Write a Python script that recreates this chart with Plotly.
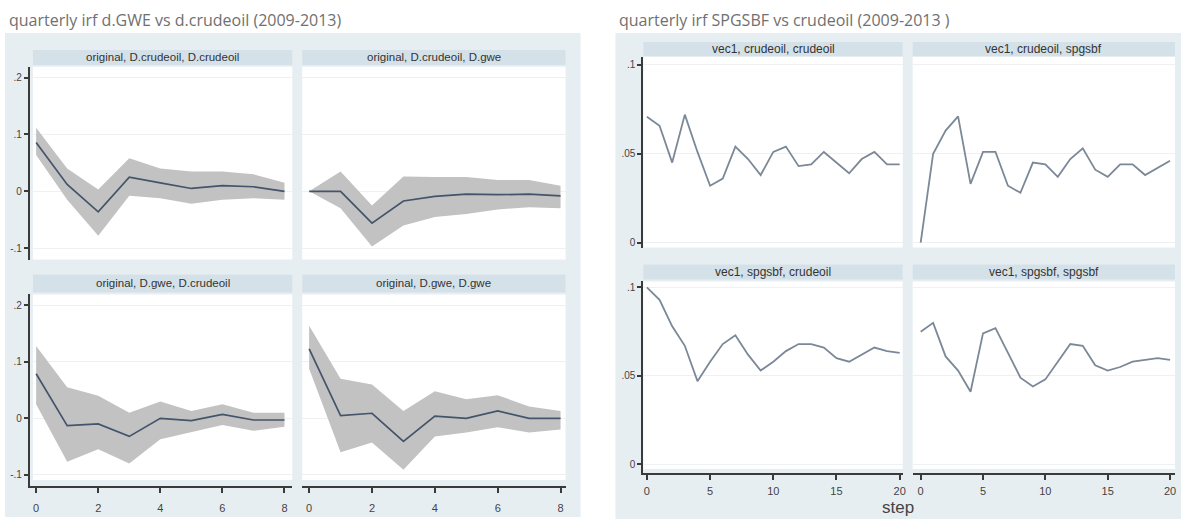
import plotly.graph_objects as go

W, H = 1188, 520

# ---- data: quarterly impulse responses (left: original IRF with CI band) ----
steps_q = [0, 1, 2, 3, 4, 5, 6, 7, 8]

oil_oil = [0.086, 0.012, -0.036, 0.025, 0.015, 0.005, 0.010, 0.008, 0.000]
oil_oil_hi = [0.112, 0.040, 0.003, 0.058, 0.040, 0.035, 0.035, 0.030, 0.015]
oil_oil_lo = [0.064, -0.015, -0.078, -0.008, -0.012, -0.022, -0.015, -0.012, -0.015]

oil_gwe = [0.000, 0.000, -0.056, -0.017, -0.009, -0.005, -0.006, -0.005, -0.008]
oil_gwe_hi = [0.000, 0.035, -0.025, 0.026, 0.025, 0.025, 0.020, 0.020, 0.010]
oil_gwe_lo = [0.000, -0.030, -0.097, -0.060, -0.045, -0.040, -0.032, -0.028, -0.030]

gwe_oil = [0.079, -0.013, -0.010, -0.032, 0.000, -0.004, 0.007, -0.003, -0.003]
gwe_oil_hi = [0.128, 0.055, 0.040, 0.010, 0.030, 0.013, 0.025, 0.010, 0.010]
gwe_oil_lo = [0.025, -0.077, -0.055, -0.080, -0.037, -0.025, -0.012, -0.022, -0.015]

gwe_gwe = [0.123, 0.005, 0.009, -0.041, 0.004, 0.000, 0.013, 0.000, 0.000]
gwe_gwe_hi = [0.164, 0.070, 0.060, 0.013, 0.048, 0.034, 0.041, 0.021, 0.013]
gwe_gwe_lo = [0.088, -0.060, -0.043, -0.091, -0.032, -0.025, -0.016, -0.025, -0.020]

# ---- data: vec1 impulse responses (right) ----
steps_v = [0, 1, 2, 3, 4, 5, 6, 7, 8, 9, 10, 11, 12, 13, 14, 15, 16, 17, 18, 19, 20]

v_oil_oil = [0.0708, 0.0657, 0.045, 0.072, 0.051, 0.032, 0.036, 0.054, 0.047, 0.038, 0.051,
             0.054, 0.043, 0.044, 0.051, 0.045, 0.039, 0.047, 0.051, 0.044, 0.044]
v_oil_spg = [0.000, 0.050, 0.063, 0.071, 0.033, 0.051, 0.051, 0.032, 0.028, 0.045, 0.044,
             0.037, 0.047, 0.053, 0.041, 0.037, 0.044, 0.044, 0.038, 0.042, 0.046]
v_spg_oil = [0.100, 0.093, 0.078, 0.067, 0.047, 0.058, 0.068, 0.073, 0.062, 0.053, 0.058,
             0.064, 0.068, 0.068, 0.066, 0.060, 0.058, 0.062, 0.066, 0.064, 0.063]
v_spg_spg = [0.075, 0.080, 0.061, 0.053, 0.041, 0.074, 0.077, 0.063, 0.049, 0.044, 0.048,
             0.058, 0.068, 0.067, 0.056, 0.053, 0.055, 0.058, 0.059, 0.060, 0.059]

left_titles = ["original, D.crudeoil, D.crudeoil", "original, D.crudeoil, D.gwe",
               "original, D.gwe, D.crudeoil", "original, D.gwe, D.gwe"]
right_titles = ["vec1, crudeoil, crudeoil", "vec1, crudeoil, spgsbf",
                "vec1, spgsbf, crudeoil", "vec1, spgsbf, spgsbf"]

left_ticks = [-0.1, 0, 0.1, 0.2]
left_ticktext = ["-.1", "0", ".1", ".2"]
right_ticks = [0, 0.05, 0.1]
right_ticktext = ["0", ".05", ".1"]
left_xticks = [0, 2, 4, 6, 8]
right_xticks = [0, 5, 10, 15, 20]

# ---- colours ----
BOX = "#e7eef2"
STRIP = "#d5e1e8"
GRID = "#edf1f4"
AXIS = "#3a3a3a"
LINE_L = "#44546a"
LINE_R = "#7b8898"
BAND = "#c2c2c2"
FONT = "Liberation Sans"


def fx(p):
    return p / W


def fy(p):
    return 1 - p / H


fig = go.Figure()
shapes = []
annotations = []

# panel geometry in pixels: (x0, x1, y0 top, y1 bottom), strip (top, bottom)
panels = [
    # left graph
    dict(dom=(30, 293, 67, 260), white=(33, 293, 67, 260), strip=(50, 65), xr=[-0.2, 8.25], yr=[-0.12, 0.219],
         showy=True, showx=False, side="L"),
    dict(dom=(303, 567, 67, 260), white=(303, 567, 67, 260), strip=(50, 65), xr=[-0.22, 8.16], yr=[-0.12, 0.219],
         showy=False, showx=False, side="L"),
    dict(dom=(30, 293, 295, 487), white=(33, 293, 295, 481), strip=(275, 293), xr=[-0.2, 8.25], yr=[-0.12, 0.2195],
         showy=True, showx=True, side="L"),
    dict(dom=(303, 567, 295, 487), white=(303, 567, 295, 481), strip=(275, 293), xr=[-0.22, 8.16], yr=[-0.12, 0.2195],
         showy=False, showx=True, side="L"),
    # right graph
    dict(dom=(645, 905, 57, 248), white=(645, 905, 57, 248), strip=(42, 56), xr=[-0.28, 20.24], yr=[-0.0028, 0.1045],
         showy=True, showx=False, side="R"),
    dict(dom=(915, 1178, 57, 248), white=(915, 1178, 57, 248), strip=(42, 56), xr=[-0.64, 20.4], yr=[-0.0028, 0.1045],
         showy=False, showx=False, side="R"),
    dict(dom=(645, 905, 282, 474), white=(645, 905, 282, 470), strip=(265, 280), xr=[-0.28, 20.24], yr=[-0.005, 0.1034],
         showy=True, showx=True, side="R"),
    dict(dom=(915, 1178, 282, 474), white=(915, 1178, 282, 470), strip=(265, 280), xr=[-0.64, 20.4], yr=[-0.005, 0.1034],
         showy=False, showx=True, side="R"),
]

# graph backgrounds
shapes.append(dict(type="rect", xref="paper", yref="paper", layer="below",
                   x0=fx(5), x1=fx(582), y0=fy(518), y1=fy(33), fillcolor=BOX, line_width=0))
shapes.append(dict(type="rect", xref="paper", yref="paper", layer="below",
                   x0=fx(617), x1=fx(1184), y0=fy(520), y1=fy(33), fillcolor=BOX, line_width=0))

titles = left_titles + right_titles
for i, p in enumerate(panels):
    x0, x1, y0, y1 = p["dom"]
    wx0, wx1, wy0, wy1 = p["white"]
    st, sb = p["strip"]
    left = p["side"] == "L"
    shapes.append(dict(type="rect", xref="paper", yref="paper", layer="below",
                       x0=fx(wx0), x1=fx(wx1), y0=fy(wy1), y1=fy(wy0), fillcolor="white", line_width=0))
    shapes.append(dict(type="rect", xref="paper", yref="paper", layer="below",
                       x0=fx(wx0), x1=fx(wx1), y0=fy(sb), y1=fy(st), fillcolor=STRIP, line_width=0))
    annotations.append(dict(x=fx((wx0 + wx1) / 2), y=fy((st + sb) / 2), xref="paper", yref="paper",
                            text=titles[i], showarrow=False, xanchor="center", yanchor="middle",
                            font=dict(family=FONT, size=11.5 if left else 12, color="#333333")))

    n = i + 1
    xa = "xaxis" if n == 1 else f"xaxis{n}"
    ya = "yaxis" if n == 1 else f"yaxis{n}"
    fig.layout[xa] = dict(
        domain=[fx(x0), fx(x1)], range=p["xr"], anchor=f"y{n if n > 1 else ''}",
        showgrid=False, zeroline=False,
        showline=p["showx"], linecolor=AXIS, linewidth=2,
        ticks="outside" if p["showx"] else "", ticklen=5, tickwidth=1.5, tickcolor=AXIS,
        tickvals=left_xticks if left else right_xticks,
        ticklabelstandoff=6 if left else 2,
        showticklabels=p["showx"], tickfont=dict(family=FONT, size=11, color="#444444"),
    )
    fig.layout[ya] = dict(
        domain=[fy(y1), fy(y0)], range=p["yr"], anchor=f"x{n if n > 1 else ''}",
        showgrid=True, gridcolor=GRID, gridwidth=1, zeroline=False,
        showline=p["showy"], linecolor=AXIS, linewidth=2,
        ticks="outside" if p["showy"] else "", ticklen=4, tickwidth=1.5, tickcolor=AXIS,
        tickvals=left_ticks if left else right_ticks,
        ticktext=left_ticktext if left else right_ticktext,
        showticklabels=p["showy"], tickfont=dict(family=FONT, size=10, color="#444444"),
    )

# confidence bands and responses on the left graph
left_series = [(oil_oil, oil_oil_hi, oil_oil_lo), (oil_gwe, oil_gwe_hi, oil_gwe_lo),
               (gwe_oil, gwe_oil_hi, gwe_oil_lo), (gwe_gwe, gwe_gwe_hi, gwe_gwe_lo)]
for i, (mid, hi, lo) in enumerate(left_series):
    n = i + 1
    xr = "x" if n == 1 else f"x{n}"
    yr = "y" if n == 1 else f"y{n}"
    fig.add_trace(go.Scatter(x=steps_q, y=hi, mode="lines", line=dict(width=0),
                             xaxis=xr, yaxis=yr, showlegend=False, hoverinfo="skip"))
    fig.add_trace(go.Scatter(x=steps_q, y=lo, mode="lines", line=dict(width=0),
                             fill="tonexty", fillcolor=BAND,
                             xaxis=xr, yaxis=yr, showlegend=False, hoverinfo="skip"))
    fig.add_trace(go.Scatter(x=steps_q, y=mid, mode="lines", line=dict(color=LINE_L, width=1.7),
                             xaxis=xr, yaxis=yr, showlegend=False))

# vec1 responses on the right graph
right_series = [v_oil_oil, v_oil_spg, v_spg_oil, v_spg_spg]
for i, vals in enumerate(right_series):
    n = i + 5
    fig.add_trace(go.Scatter(x=steps_v, y=vals, mode="lines", line=dict(color=LINE_R, width=1.8),
                             xaxis=f"x{n}", yaxis=f"y{n}", showlegend=False))

# graph titles and x-axis title
annotations.append(dict(x=fx(7), y=fy(20), xref="paper", yref="paper",
                        text="quarterly irf d.GWE vs d.crudeoil (2009-2013)", showarrow=False,
                        xanchor="left", yanchor="middle",
                        font=dict(family="Open Sans", size=16, color="#707070")))
annotations.append(dict(x=fx(619), y=fy(20), xref="paper", yref="paper",
                        text="quarterly irf SPGSBF vs crudeoil (2009-2013 )", showarrow=False,
                        xanchor="left", yanchor="middle",
                        font=dict(family="Open Sans", size=16, color="#707070")))
annotations.append(dict(x=fx(900), y=fy(508), xref="paper", yref="paper",
                        text="step", showarrow=False, xanchor="center", yanchor="middle",
                        font=dict(family=FONT, size=17, color="#444444")))

fig.update_layout(
    width=W, height=H, margin=dict(l=0, r=0, t=0, b=0),
    paper_bgcolor="white", plot_bgcolor="rgba(0,0,0,0)",
    shapes=shapes, annotations=annotations, showlegend=False,
)

fig.write_html("out.html")
